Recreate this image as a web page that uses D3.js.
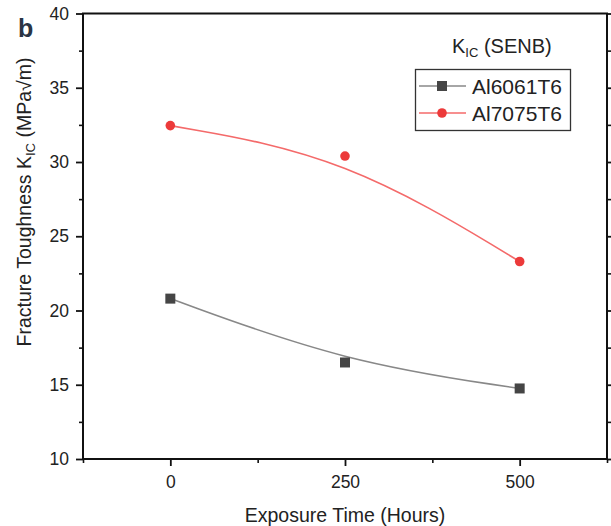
<!DOCTYPE html>
<html>
<head>
    <meta charset="UTF-8">
    <title>Fracture Toughness vs Exposure Time</title>
    <style>
        body {
            margin: 0;
            padding: 0;
            background-color: white;
            font-family: "Liberation Sans", Arial, sans-serif;
        }
        .axis path, .axis line {
            stroke: #111;
        }
        .axis text {
            fill: #222;
            font-size: 17.5px;
            font-family: "Liberation Sans", Arial, sans-serif;
        }
        .title {
            fill: #222;
            font-size: 19.5px;
        }
    </style>
    <script src="https://d3js.org/d3.v7.min.js"></script>
</head>
<body>
    <div id="chart"></div>

    <script>
        // data
        var hours = [0, 250, 500];
        var al6061 = [20.8, 16.5, 14.75];
        var al7075 = [32.45, 30.4, 23.3];
        var seriesNames = ["Al6061T6", "Al7075T6"];

        var xTicks = [0, 250, 500];
        var xMinor = [-125, 125, 375, 625];
        var yTicks = [10, 15, 20, 25, 30, 35, 40];
        var yMinor = [12.5, 17.5, 22.5, 27.5, 32.5, 37.5];

        var W = 611, H = 526;
        var margin = {top: 13.5, right: 4, bottom: 67, left: 83};
        var width = W - margin.left - margin.right,
            height = H - margin.top - margin.bottom;

        var x = d3.scaleLinear().domain([-125, 625]).range([0, width]);
        var y = d3.scaleLinear().domain([10, 40]).range([height, 0]);

        var svg = d3.select("#chart").append("svg")
            .attr("width", W)
            .attr("height", H);

        var g = svg.append("g")
            .attr("transform", "translate(" + margin.left + "," + margin.top + ")");

        // minor ticks first
        g.append("g")
            .attr("class", "axis")
            .attr("transform", "translate(0," + height + ")")
            .call(d3.axisBottom(x).tickValues(xMinor).tickSize(4).tickFormat(""))
            .call(function(s) { s.select(".domain").remove(); })
            .selectAll("line").attr("stroke-width", 1.6);

        g.append("g")
            .attr("class", "axis")
            .call(d3.axisLeft(y).tickValues(yMinor).tickSize(4).tickFormat(""))
            .call(function(s) { s.select(".domain").remove(); })
            .selectAll("line").attr("stroke-width", 1.6);

        g.append("g")
            .attr("class", "axis")
            .attr("transform", "translate(" + width + ",0)")
            .call(d3.axisRight(y).tickValues(yMinor).tickSize(4).tickFormat(""))
            .call(function(s) { s.select(".domain").remove(); })
            .selectAll("line").attr("stroke-width", 1.6);

        // major ticks
        var xAxis = g.append("g")
            .attr("class", "axis")
            .attr("transform", "translate(0," + height + ")")
            .call(d3.axisBottom(x).tickValues(xTicks).tickSize(7).tickPadding(10).tickSizeOuter(0));
        xAxis.select(".domain").remove();
        xAxis.selectAll("line").attr("stroke-width", 1.8);

        var yAxis = g.append("g")
            .attr("class", "axis")
            .call(d3.axisLeft(y).tickValues(yTicks).tickSize(7).tickPadding(7).tickSizeOuter(0));
        yAxis.select(".domain").remove();
        yAxis.selectAll("line").attr("stroke-width", 1.8);

        var yRight = g.append("g")
            .attr("class", "axis")
            .attr("transform", "translate(" + width + ",0)")
            .call(d3.axisRight(y).tickValues(yTicks).tickSize(7).tickFormat("").tickSizeOuter(0));
        yRight.select(".domain").remove();
        yRight.selectAll("line").attr("stroke-width", 1.8);

        // frame
        g.append("rect")
            .attr("width", width)
            .attr("height", height)
            .attr("fill", "none")
            .attr("stroke", "#111")
            .attr("stroke-width", 2);

        // fitted curves
        var line = d3.line()
            .x(function(d) { return x(d[0]); })
            .y(function(d) { return y(d[1]); })
            .curve(d3.curveBasis);

        var s6061 = hours.map(function(h, i) { return [h, al6061[i]]; });
        var s7075 = hours.map(function(h, i) { return [h, al7075[i]]; });

        g.append("path").datum(s6061)
            .attr("d", line)
            .attr("fill", "none")
            .attr("stroke", "#888")
            .attr("stroke-width", 1.6);

        g.append("path").datum(s7075)
            .attr("d", line)
            .attr("fill", "none")
            .attr("stroke", "#f46a6a")
            .attr("stroke-width", 1.6);

        // markers
        g.selectAll(".sq").data(s6061).enter().append("rect")
            .attr("class", "sq")
            .attr("x", function(d) { return x(d[0]) - 5; })
            .attr("y", function(d) { return y(d[1]) - 5; })
            .attr("width", 10)
            .attr("height", 10)
            .attr("fill", "#454545");

        g.selectAll(".dot").data(s7075).enter().append("circle")
            .attr("class", "dot")
            .attr("cx", function(d) { return x(d[0]); })
            .attr("cy", function(d) { return y(d[1]); })
            .attr("r", 4.8)
            .attr("fill", "#ec3a3a");

        // axis titles
        svg.append("text")
            .attr("class", "title")
            .attr("x", margin.left + x(250))
            .attr("y", 522)
            .attr("font-size", "20px")
            .attr("text-anchor", "middle")
            .text("Exposure Time (Hours)");

        var yt = svg.append("text")
            .attr("class", "title")
            .attr("transform", "translate(31,202) rotate(-90)")
            .attr("text-anchor", "middle");
        yt.append("tspan").text("Fracture Toughness K");
        yt.append("tspan").attr("font-size", "13px").attr("dy", 4).text("IC");
        yt.append("tspan").attr("dy", -4).text(" (MPa\u221Am)");

        // panel letter
        svg.append("text")
            .attr("x", 18)
            .attr("y", 37)
            .attr("font-size", "25px")
            .attr("font-weight", "bold")
            .attr("fill", "#2a3444")
            .text("b");

        // legend
        var lt = svg.append("text")
            .attr("x", 452)
            .attr("y", 53)
            .attr("font-size", "20px")
            .attr("fill", "#222");
        lt.append("tspan").text("K");
        lt.append("tspan").attr("font-size", "13px").attr("dy", 4).text("IC");
        lt.append("tspan").attr("dy", -4).text(" (SENB)");

        var legend = svg.append("g");
        legend.append("rect")
            .attr("x", 415.5)
            .attr("y", 69.5)
            .attr("width", 155)
            .attr("height", 61)
            .attr("fill", "white")
            .attr("stroke", "#333")
            .attr("stroke-width", 1.3);

        var legColors = ["#888", "#f46a6a"];
        var legY = [86, 113];
        seriesNames.forEach(function(name, i) {
            legend.append("line")
                .attr("x1", 419).attr("x2", 466)
                .attr("y1", legY[i]).attr("y2", legY[i])
                .attr("stroke", legColors[i])
                .attr("stroke-width", 1.6);
            if (i === 0) {
                legend.append("rect")
                    .attr("x", 437).attr("y", legY[i] - 5)
                    .attr("width", 10).attr("height", 10)
                    .attr("fill", "#454545");
            } else {
                legend.append("circle")
                    .attr("cx", 442).attr("cy", legY[i])
                    .attr("r", 4.8)
                    .attr("fill", "#ec3a3a");
            }
            legend.append("text")
                .attr("x", 472)
                .attr("y", legY[i] + 8)
                .attr("font-size", "21px")
                .attr("fill", "#222")
                .text(name);
        });
    </script>
</body>
</html>
